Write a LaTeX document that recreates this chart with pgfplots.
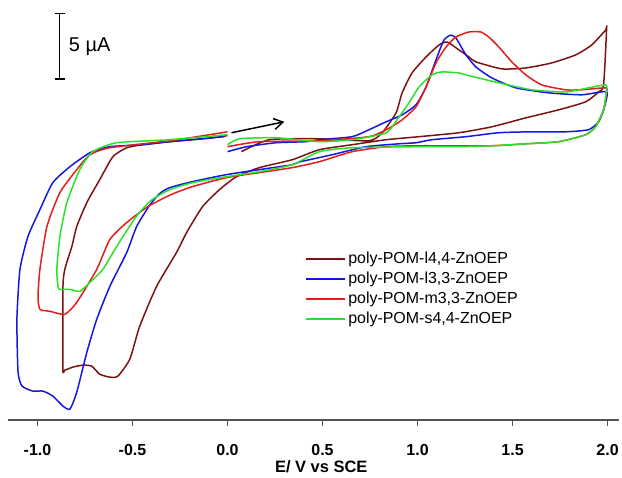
\documentclass[border=0pt]{standalone}
\usepackage{fontspec}
\setmainfont{Liberation Sans}
\usepackage{pgfplots}
\pgfplotsset{compat=1.18}
\usetikzlibrary{arrows.meta}
\definecolor{cbrown}{RGB}{125,18,18}
\definecolor{cblue}{RGB}{22,22,225}
\definecolor{cred}{RGB}{228,28,28}
\definecolor{cgreen}{RGB}{40,225,40}
\definecolor{axgray}{RGB}{85,85,85}
\begin{document}
\begin{tikzpicture}
\begin{axis}[
  scale only axis, width=612pt, height=421pt,
  xmin=-1.155, xmax=2.058, ymin=0, ymax=31.9,
  axis x line=bottom, axis y line=none,
  x axis line style={-, axgray, line width=1.2pt},
  xtick={-1,-0.5,0,0.5,1,1.5,2},
  xticklabels={-1.0,-0.5,0.0,0.5,1.0,1.5,2.0},
  tick align=outside, major tick length=6pt,
  tick style={axgray, line width=1.2pt},
  xticklabel style={font=\bfseries\fontsize{16}{16}\selectfont, yshift=-15pt},
  xlabel={E/ V vs SCE},
  xlabel style={font=\bfseries\fontsize{16.5}{17}\selectfont, at={(ticklabel cs:0.513)}, anchor=north, yshift=2pt},
  clip=false,
  legend cell align=left,
  legend image code/.code={\draw[#1, line width=1.8pt] (0pt,0pt) -- (39pt,0pt);},
  legend style={draw=none, fill=none, at={(axis description cs:0.487,0.405)}, anchor=north west,
     font=\fontsize{16}{19}\selectfont, row sep=3pt, inner sep=0pt,
     nodes={inner sep=2pt}},
  every axis plot/.append style={line width=1.5pt, line join=round, smooth, tension=0.35},
]
\addplot[cbrown, mark=none] coordinates {
(0.073,20.38) (0.220,21.29) (0.483,21.36) (0.745,21.21) (0.814,21.82) (0.887,23.33)
(0.919,24.85) (0.971,26.36) (1.045,27.58) (1.113,28.48) (1.155,28.71) (1.218,28.11)
(1.270,27.58) (1.307,27.20) (1.444,26.67) (1.570,26.74) (1.706,27.12) (1.832,27.73)
(1.916,28.48) (1.990,29.62) (1.995,29.77) (1.979,25.45) (1.953,24.92) (1.885,24.17)
(1.743,23.56) (1.570,22.95) (1.391,22.27) (1.218,21.82) (1.008,21.52) (0.835,21.29)
(0.656,20.91) (0.483,20.53) (0.341,19.77) (0.168,19.17) (0.047,18.48) (-0.042,17.50)
(-0.131,16.21) (-0.215,14.24) (-0.268,12.73) (-0.373,10.15) (-0.462,7.12) (-0.514,4.62)
(-0.577,3.33) (-0.619,3.26) (-0.672,3.48) (-0.714,4.09) (-0.761,4.17) (-0.814,4.02)
(-0.856,3.79) (-0.866,3.86) (-0.866,10.0) (-0.856,11.44) (-0.819,13.18) (-0.793,14.70)
(-0.740,16.52) (-0.672,18.26) (-0.603,20.00) (-0.530,20.68) (-0.446,20.91) (-0.304,21.14)
(-0.100,21.40) (0.0,21.6)
};
\addlegendentry{poly-POM-l4,4-ZnOEP}
\addplot[cblue, mark=none] coordinates {
(0,20.38) (0.100,20.76) (0.257,21.06) (0.415,21.14) (0.483,21.29) (0.656,21.52)
(0.745,22.05) (0.835,22.65) (0.919,23.18) (0.992,23.94) (1.045,25.30) (1.097,27.35)
(1.139,28.86) (1.176,29.24) (1.202,29.02) (1.218,28.64) (1.255,27.73) (1.307,26.82)
(1.391,25.98) (1.517,25.23) (1.690,24.85) (1.864,24.70) (1.995,24.92) (1.979,23.56)
(1.953,22.65) (1.900,22.05) (1.780,21.89) (1.601,21.89) (1.428,21.82) (1.255,21.52)
(1.076,21.29) (0.992,21.06) (0.903,20.98) (0.730,20.76) (0.551,20.15) (0.378,19.6)
(0.341,19.39) (0.168,19.02) (-0.005,18.64) (-0.184,18.11) (-0.304,17.65) (-0.357,17.20)
(-0.410,16.30) (-0.478,14.70) (-0.530,12.73) (-0.619,10.15) (-0.688,7.65)
(-0.740,5.15) (-0.793,2.12) (-0.829,0.83) (-0.866,1.06) (-0.919,1.82) (-0.971,2.20)
(-1.024,2.20) (-1.081,2.58) (-1.102,3.64) (-1.108,7.65) (-1.092,11.44) (-1.050,13.94)
(-0.987,15.98) (-0.919,18.03) (-0.829,19.24) (-0.724,20.30) (-0.619,20.76) (-0.446,20.91)
(-0.304,21.14) (-0.016,21.52)
};
\addlegendentry{poly-POM-l3,3-ZnOEP}
\addplot[cred, mark=none] coordinates {
(0,20.76) (0.168,21.14) (0.483,21.21) (0.745,21.52) (0.835,22.05) (0.919,22.80)
(0.992,23.79) (1.045,25.30) (1.097,27.12) (1.150,28.33) (1.202,29.09) (1.270,29.47)
(1.333,29.47) (1.375,29.09) (1.428,28.33) (1.496,27.20) (1.570,26.21) (1.654,25.45)
(1.780,25.08) (1.864,25.08) (1.990,25.23) (1.995,24.92) (1.979,23.56) (1.937,22.27)
(1.885,21.67) (1.743,21.14) (1.570,20.98) (1.391,20.83) (1.008,20.83) (0.835,20.76)
(0.656,20.38) (0.483,19.62) (0.341,19.17) (0.168,18.79) (-0.005,18.41) (-0.184,17.73)
(-0.300,17.10) (-0.420,16.20) (-0.530,15.00) (-0.619,13.71) (-0.688,11.44) (-0.793,8.94) (-0.856,8.03)
(-0.934,8.26) (-0.987,8.41) (-0.997,9.39) (-0.987,11.44) (-0.950,14.70) (-0.882,17.27)
(-0.793,19.02) (-0.724,20.15) (-0.619,20.68) (-0.304,21.21) (-0.094,21.67) (0,21.89)
};
\addlegendentry{poly-POM-m3,3-ZnOEP}
\addplot[cgreen, mark=none] coordinates {
(0,20.91) (0.063,21.36) (0.257,21.44) (0.483,21.14) (0.656,21.29) (0.835,21.82)
(0.903,23.03) (0.955,24.09) (1.008,25.30) (1.076,26.21) (1.129,26.44) (1.218,26.36)
(1.255,26.21) (1.428,25.61) (1.601,25.08) (1.780,24.92) (1.900,25.23) (1.990,25.45)
(1.995,25.08) (1.979,23.56) (1.937,22.27) (1.885,21.67) (1.743,21.14) (1.570,20.98)
(1.391,20.83) (1.218,20.76) (1.008,20.76) (0.656,20.68) (0.483,20.38) (0.341,19.39)
(0.168,18.86) (-0.005,18.48) (-0.184,18.03) (-0.304,17.50) (-0.400,16.70) (-0.478,15.50)
(-0.583,13.18) (-0.656,11.44) (-0.724,10.45) (-0.777,9.77) (-0.829,9.92) (-0.882,9.92)
(-0.892,10.15) (-0.898,11.44) (-0.882,13.94) (-0.845,16.52) (-0.777,19.02) (-0.709,20.38)
(-0.583,21.06) (-0.304,21.29) (0,21.67)
};
\addlegendentry{poly-POM-s4,4-ZnOEP}
% scale bar
\draw[black, line width=1.2pt] (axis cs:-0.882,25.9) -- (axis cs:-0.882,30.9);
\draw[black, line width=1.2pt] (axis cs:-0.908,25.9) -- (axis cs:-0.856,25.9);
\draw[black, line width=1.2pt] (axis cs:-0.908,30.9) -- (axis cs:-0.856,30.9);
\node[anchor=west, font=\fontsize{20}{20}\selectfont, inner sep=0pt] at (axis cs:-0.835,28.33) {5 µA};
% scan direction arrow
\draw[black, line width=1.5pt, -{Straight Barb[length=9pt,width=11pt]}] (axis cs:0.021,21.82) -- (axis cs:0.299,22.65);
\end{axis}
\path (-8pt,-58pt) rectangle (614pt,421pt);
\end{tikzpicture}
\end{document}
